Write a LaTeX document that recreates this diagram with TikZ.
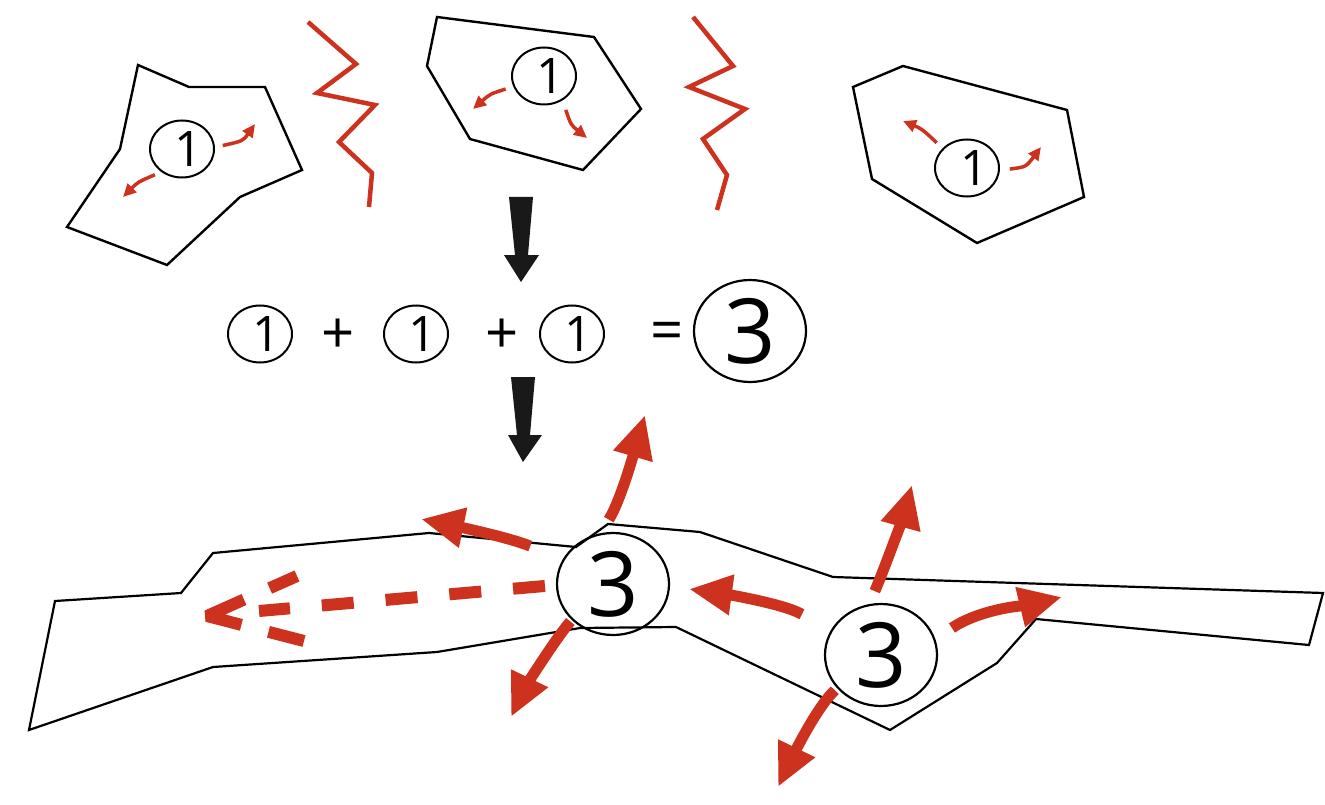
\documentclass[tikz,border=0pt]{standalone}
\usepackage{fontspec}
\setmainfont{Open Sans}
\usetikzlibrary{arrows.meta,shapes.geometric}
\definecolor{spread}{RGB}{204,50,30}

\begin{document}
\begin{tikzpicture}[x=1pt,y=-1pt,
    outline/.style={line width=2.4pt, line join=miter},
    zigzag/.style={spread, line width=4.5pt},
    one/.style={ellipse, draw, line width=2pt, minimum width=64pt, minimum height=57pt, inner sep=0pt,
      label={[xshift=7pt, font=\fontsize{49}{49}\selectfont]center:1}},
    three/.style={ellipse, draw, line width=2.2pt, minimum width=112pt, minimum height=102pt, inner sep=0pt,
      font=\fontsize{90}{90}\selectfont},
    sign/.style={font=\fontsize{58}{58}\selectfont},
    drift/.style={spread, line width=3.5pt, -{Triangle[length=13pt,width=12pt]}},
    burst/.style={spread, line width=11pt, -{Triangle[length=43pt,width=38pt]}},
    blockarrow/.style={fill=black!90}]
  \path[fill=white] (0,0) rectangle (1325,805); % page frame
  % three separate regions
  \draw[outline] (138,65) -- (189,87) -- (265,87) -- (302,170) -- (240,197) -- (167,265) -- (67,227) -- (120,149) -- cycle;
  \draw[outline] (437,17) -- (594,37) -- (641,109) -- (583,170) -- (470,139) -- (427,66) -- cycle;
  \draw[outline] (853,87) -- (903,66) -- (1067,110) -- (1084,197) -- (977,243) -- (872,179) -- cycle;
  % barriers between them
  \draw[zigzag] (308,22) -- (356,64) -- (317,93) -- (375,105) -- (339,142) -- (372,173) -- (369,207);
  \draw[zigzag] (693,17) -- (733,66) -- (689,87) -- (745,109) -- (703,139) -- (727,175) -- (717,210);
  \node[one] (c1) at (182,149) {};
  \node[one] (c2) at (544,76) {};
  \node[one] (c3) at (967,168) {};
  \coordinate (c1a) at (255,124);
  \coordinate (c1b) at (123,197);
  \coordinate (c2a) at (473,109);
  \coordinate (c2b) at (587,138);
  \coordinate (c3a) at (903,121);
  \coordinate (c3b) at (1041,147);
  \draw[drift, shorten <=8pt] (c1.3) .. controls (243,141) .. (c1a);
  \draw[drift, shorten <=7pt] (c1.228) .. controls (138,182) .. (c1b);
  \draw[drift, shorten <=8pt] (c2.199) .. controls (490,94) .. (c2a);
  \draw[drift, shorten <=10pt] (c2.307) .. controls (571,125) .. (c2b);
  \draw[drift, shorten <=8pt] (c3.141) .. controls (922,129) .. (c3a);
  \draw[drift, shorten <=10pt] (c3.356) .. controls (1026,167) .. (c3b);
  % the sum
  \fill[blockarrow] (509,197) -- (533,197) -- (528,255) -- (539,255) -- (521,282) -- (504,255) -- (515,255) -- cycle;
  \node[one] (e1) at (260,334) {};
  \node[sign] (p1) at (338,336) {+};
  \node[one] (e2) at (416,334) {};
  \node[sign] (p2) at (502,336) {+};
  \node[one] (e3) at (572,334) {};
  \node[sign] (eq) at (667,336) {=};
  \node[three] (sum) at (750,331) {3};
  \fill[blockarrow] (511,377) -- (535,377) -- (530,435) -- (542,435) -- (523,462) -- (508,435) -- (517,435) -- cycle;
  % merged region
  \draw[outline, line width=2.2pt] (55,601) -- (181,593) -- (213,553) -- (429,533) -- (576,547) -- (608,524) -- (700,532)
    -- (833,577) -- (1323,593) -- (1309,645) -- (1036,619) -- (997,663) -- (890,730) -- (676,627) -- (580,628)
    -- (437,652) -- (213,667) -- (29,730) -- cycle;
  \node[three] (L3) at (613,584) {3};
  \node[three] (R3) at (881,655) {3};
  \coordinate (l3up) at (645,415);
  \coordinate (l3left) at (421,519);
  \coordinate (l3down) at (511,717);
  \coordinate (r3up) at (912,485);
  \coordinate (r3left) at (689,589);
  \coordinate (r3right) at (1062,597);
  \coordinate (r3down) at (778,787);
  \draw[burst, shorten <=16pt] (L3.104) .. controls (621,500) and (635,449) .. (l3up);
  \draw[burst, shorten <=35pt] (L3.154) .. controls (508,537) and (450,525) .. (l3left);
  \draw[burst, shorten <=2pt] (L3.221) .. controls (553,642) and (524,690) .. (l3down);
  \draw[burst, shorten <=14pt] (R3.103) .. controls (884,570) and (904,514) .. (r3up);
  \draw[burst, shorten <=33pt] (R3.154) .. controls (782,603) and (718,593) .. (r3left);
  \draw[burst, shorten <=20pt] (R3.16) .. controls (981,608) and (1033,604) .. (r3right);
  \draw[burst, shorten <=3pt] (R3.217) .. controls (816,708) and (792,758) .. (r3down);
  % dashed way out
  \coordinate (dend) at (259,611);
  \coordinate (dtip) at (207,616);
  \coordinate (dup) at (297,576);
  \coordinate (dlow) at (304,641);
  \draw[spread, line width=12pt, dash pattern=on 32pt off 32pt, shorten <=11pt] (L3.181) -- (dend);
  \draw[spread, line width=12pt, line join=bevel, dash pattern=on 30pt off 28pt on 76pt off 28pt on 40pt] (dup) -- (dtip) -- (dlow);
\end{tikzpicture}
\end{document}
